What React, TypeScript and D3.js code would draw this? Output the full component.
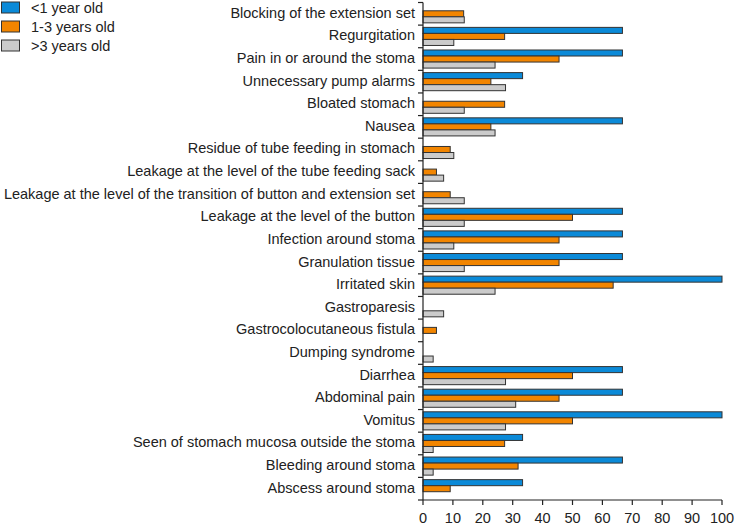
import React from "react";
import * as d3 from "d3";

const categories = [
  "Blocking of the extension set",
  "Regurgitation",
  "Pain in or around the stoma",
  "Unnecessary pump alarms",
  "Bloated stomach",
  "Nausea",
  "Residue of tube feeding in stomach",
  "Leakage at the level of the tube feeding sack",
  "Leakage at the level of the transition of button and extension set",
  "Leakage at the level of the button",
  "Infection around stoma",
  "Granulation tissue",
  "Irritated skin",
  "Gastroparesis",
  "Gastrocolocutaneous fistula",
  "Dumping syndrome",
  "Diarrhea",
  "Abdominal pain",
  "Vomitus",
  "Seen of stomach mucosa outside the stoma",
  "Bleeding around stoma",
  "Abscess around stoma",
];

const under1 = [0, 66.7, 66.7, 33.3, 0, 66.7, 0, 0, 0, 66.7, 66.7, 66.7, 100, 0, 0, 0, 66.7, 66.7, 100, 33.3, 66.7, 33.3];
const age1to3 = [13.6, 27.3, 45.5, 22.7, 27.3, 22.7, 9.1, 4.5, 9.1, 50, 45.5, 45.5, 63.6, 0, 4.5, 0, 50, 45.5, 50, 27.3, 31.8, 9.1];
const over3 = [13.8, 10.3, 24.1, 27.6, 13.8, 24.1, 10.3, 6.9, 13.8, 13.8, 10.3, 13.8, 24.1, 6.9, 0, 3.4, 27.6, 31.0, 27.6, 3.4, 3.4, 0];

const seriesNames = ["<1 year old", "1-3 years old", ">3 years old"];
const seriesColors = ["#0b8ad8", "#f28500", "#cbcbcb"];
const xTicks = [0, 10, 20, 30, 40, 50, 60, 70, 80, 90, 100];

export default function App() {
  const W = 735, H = 525;
  const left = 423, right = 722, top = 2.5, bottom = 500;
  const x = d3.scaleLinear().domain([0, 100]).range([left, right]);
  const y = d3.scaleBand().domain(categories).range([top, bottom]).paddingInner(0.2).paddingOuter(0.1);
  const sub = d3.scaleBand().domain(["0", "1", "2"]).range([0, y.bandwidth()]);
  const step = y.step();
  const series = [under1, age1to3, over3];
  const font = "Arial, 'Liberation Sans', sans-serif";

  return (
    <svg width={W} height={H} style={{ position: "absolute", left: 0, top: 0 }} fontFamily={font}>
      {/* bars */}
      {categories.map((c, i) => (
        <g key={c}>
          {series.map((s, k) =>
            s[i] > 0 ? (
              <rect
                key={k}
                x={x(0)}
                y={(y(c) as number) + (sub(String(k)) as number)}
                width={x(s[i]) - x(0)}
                height={sub.bandwidth()}
                fill={seriesColors[k]}
                stroke="#333"
                strokeWidth={1}
              />
            ) : null
          )}
          <text x={415} y={(y(c) as number) + y.bandwidth() / 2 - 1} fontSize={14.5} fill="#222" textAnchor="end" dominantBaseline="central">
            {c}
          </text>
        </g>
      ))}
      {/* y axis */}
      <line x1={left} x2={left} y1={top} y2={bottom} stroke="#222" strokeWidth={1.2} />
      {d3.range(categories.length + 1).map((i) => (
        <line key={i} x1={left - 5} x2={left} y1={top + i * step} y2={top + i * step} stroke="#222" strokeWidth={1.2} />
      ))}
      {/* x axis */}
      <line x1={left} x2={right} y1={bottom} y2={bottom} stroke="#222" strokeWidth={1.2} />
      {xTicks.map((t) => (
        <g key={t}>
          <line x1={x(t)} x2={x(t)} y1={bottom} y2={bottom + 5} stroke="#222" strokeWidth={1.2} />
          <text x={x(t)} y={bottom + 23} fontSize={14.5} fill="#222" textAnchor="middle">
            {t}
          </text>
        </g>
      ))}
      {/* legend */}
      {seriesNames.map((n, k) => (
        <g key={n}>
          <rect x={1.5} y={2 + k * 19} width={18} height={11} fill={seriesColors[k]} stroke="#333" strokeWidth={1} />
          <text x={31} y={7.5 + k * 19} fontSize={14.5} fill="#222" dominantBaseline="central">
            {n}
          </text>
        </g>
      ))}
    </svg>
  );
}
